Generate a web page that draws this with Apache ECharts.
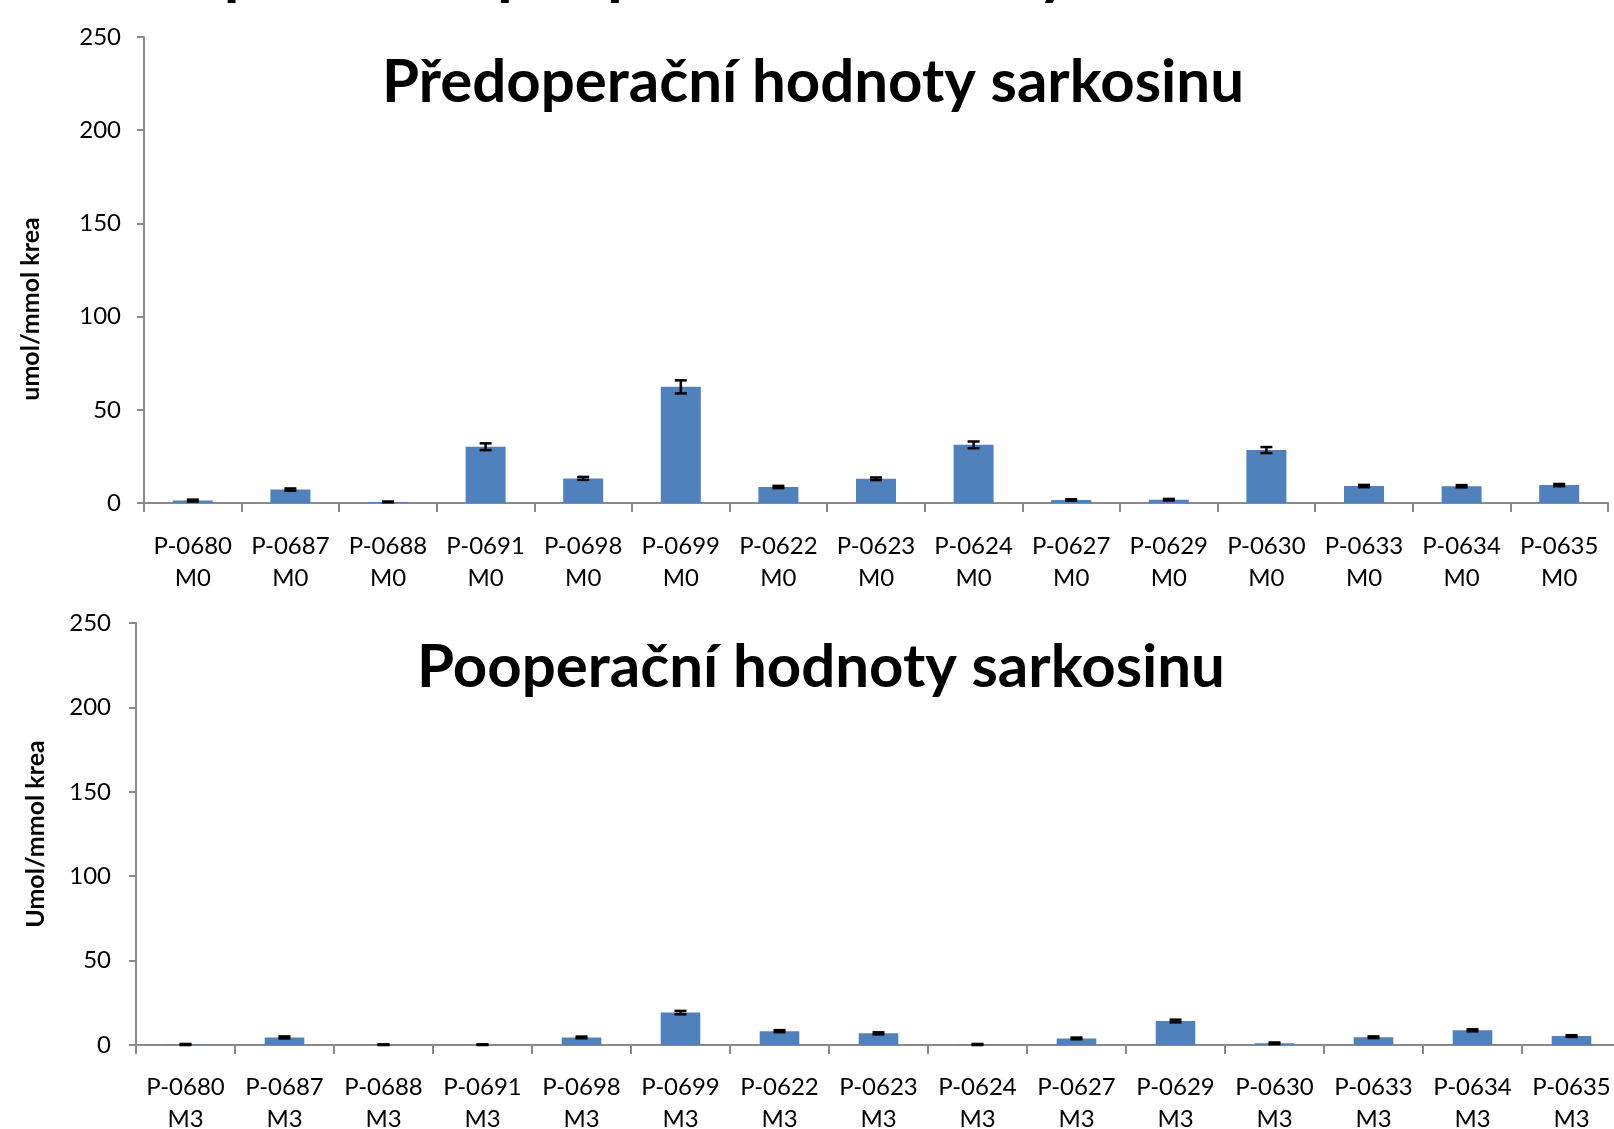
<!DOCTYPE html>
<html>
<head>
<meta charset="utf-8">
<script src="https://cdn.jsdelivr.net/npm/echarts@6/dist/echarts.min.js"></script>
<style>
html,body{margin:0;padding:0;background:#fff;}
#chart{width:1614px;height:1129px;}
</style>
</head>
<body>
<div id="chart"></div>
<script>
const categories = ['P-0680','P-0687','P-0688','P-0691','P-0698','P-0699','P-0622','P-0623','P-0624','P-0627','P-0629','P-0630','P-0633','P-0634','P-0635'];
const preSuffix = 'M0';
const postSuffix = 'M3';
const preValues  = [1.3, 7.2, 0.6, 30.2, 13.2, 62.3, 8.6, 13.0, 31.2, 1.6, 1.8, 28.4, 9.1, 9.0, 9.6];
const preErrors  = [0.5, 0.6, 0.2, 1.8, 0.8, 3.5, 0.6, 0.7, 1.8, 0.4, 0.4, 1.6, 0.6, 0.6, 0.6];
const postValues = [0.3, 4.5, 0.2, 0.2, 4.5, 19.2, 8.2, 6.9, 0.3, 3.9, 14.2, 1.0, 4.6, 8.7, 5.3];
const postErrors = [0.3, 0.6, 0.2, 0.2, 0.5, 1.0, 0.6, 0.6, 0.3, 0.5, 0.8, 0.5, 0.5, 0.6, 0.5];
const yTicks = [0, 50, 100, 150, 200, 250];
const headerTitle = 'Předoperační a pooperační hodnoty sarkosinu v moči';
const preTitle = 'Předoperační hodnoty sarkosinu';
const postTitle = 'Pooperační hodnoty sarkosinu';
const preAxisName = 'umol/mmol krea';
const postAxisName = 'Umol/mmol krea';

const FONT = 'Lato';
const AXIS_COLOR = '#898989';
const BAR_COLOR = '#4F81BD';

const chart = echarts.init(document.getElementById('chart'), null, {renderer: 'canvas'});

function xAxis(gridIndex, suffix, margin) {
  return {
    type: 'category', gridIndex, data: categories,
    axisLine: {lineStyle: {color: AXIS_COLOR, width: 2}},
    axisTick: {show: true, length: 9, lineStyle: {color: AXIS_COLOR, width: 2}},
    axisLabel: {
      interval: 0, margin, color: '#000', fontFamily: FONT, fontSize: 24, lineHeight: 32,
      formatter: v => v + '\n' + suffix
    },
    splitLine: {show: false}
  };
}
function yAxis(gridIndex, margin) {
  return {
    type: 'value', gridIndex, min: yTicks[0], max: yTicks[yTicks.length - 1], interval: 50,
    axisLine: {show: true, lineStyle: {color: AXIS_COLOR, width: 2}},
    axisTick: {show: true, length: 7, lineStyle: {color: AXIS_COLOR, width: 2}},
    axisLabel: {margin, color: '#000', fontFamily: FONT, fontSize: 24},
    splitLine: {show: false}
  };
}
function errRender(params, api) {
  const x = api.value(0), v = api.value(1), e = api.value(2);
  const hi = api.coord([x, v + e]);
  const lo = api.coord([x, Math.max(0, v - e)]);
  const w = 6;
  const st = {stroke: '#000', lineWidth: 2.5};
  return {type: 'group', children: [
    {type: 'line', shape: {x1: hi[0], y1: hi[1], x2: lo[0], y2: lo[1]}, style: st},
    {type: 'line', shape: {x1: hi[0] - w, y1: hi[1], x2: hi[0] + w, y2: hi[1]}, style: st},
    {type: 'line', shape: {x1: lo[0] - w, y1: lo[1], x2: lo[0] + w, y2: lo[1]}, style: st}
  ]};
}

const option = {
  backgroundColor: '#fff',
  animation: false,
  title: [
    {text: preTitle, left: 808, top: 48, textAlign: 'center',
     textStyle: {fontFamily: FONT, fontSize: 60, fontWeight: 'bold', color: '#000'}},
    {text: postTitle, left: 816, top: 633, textAlign: 'center',
     textStyle: {fontFamily: FONT, fontSize: 60, fontWeight: 'bold', color: '#000'}}
  ],
  graphic: [
    {type: 'text', x: 807, y: -28, silent: true,
     style: {text: headerTitle, fontFamily: FONT, fontSize: 64, fontWeight: 'bold', fill: '#000', align: 'center', verticalAlign: 'middle'}},
    {type: 'text', x: 31, y: 309, rotation: Math.PI / 2, silent: true,
     style: {text: preAxisName, fontFamily: FONT, fontSize: 25, fontWeight: 'bold', fill: '#000', align: 'center', verticalAlign: 'middle'}},
    {type: 'text', x: 36, y: 834, rotation: Math.PI / 2, silent: true,
     style: {text: postAxisName, fontFamily: FONT, fontSize: 25, fontWeight: 'bold', fill: '#000', align: 'center', verticalAlign: 'middle'}}
  ],
  grid: [
    {left: 144, top: 37, width: 1464, height: 466, outerBoundsMode: 'none', containLabel: false},
    {left: 136, top: 623, width: 1485, height: 422, outerBoundsMode: 'none', containLabel: false}
  ],
  xAxis: [xAxis(0, preSuffix, 27), xAxis(1, postSuffix, 26)],
  yAxis: [yAxis(0, 23), yAxis(1, 25)],
  series: [
    {type: 'bar', xAxisIndex: 0, yAxisIndex: 0, data: preValues, barWidth: '41%',
     itemStyle: {color: BAR_COLOR}},
    {type: 'custom', xAxisIndex: 0, yAxisIndex: 0, z: 5, renderItem: errRender,
     data: categories.map((c, i) => [i, preValues[i], preErrors[i]])},
    {type: 'bar', xAxisIndex: 1, yAxisIndex: 1, data: postValues, barWidth: '40%',
     itemStyle: {color: BAR_COLOR}},
    {type: 'custom', xAxisIndex: 1, yAxisIndex: 1, z: 5, renderItem: errRender,
     data: categories.map((c, i) => [i, postValues[i], postErrors[i]])}
  ]
};
chart.setOption(option);
</script>
</body>
</html>
